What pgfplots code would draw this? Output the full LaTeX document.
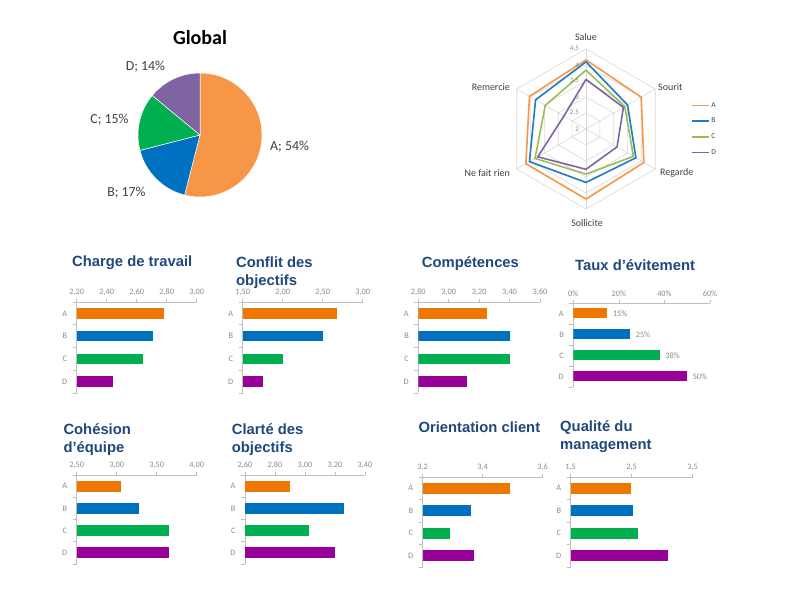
\documentclass[border=0pt]{standalone}
\usepackage{pgfplots}
\pgfplotsset{compat=1.18}
\usepackage{pgfplotstable}
\usepackage{fontspec}
\setmainfont{Carlito}
\newfontfamily\titlefont{Liberation Sans}

\definecolor{barA}{HTML}{EE7700}
\definecolor{barB}{HTML}{0070C0}
\definecolor{barC}{HTML}{00B050}
\definecolor{barD}{HTML}{990099}
\definecolor{pieA}{HTML}{F79646}
\definecolor{pieB}{HTML}{0070C0}
\definecolor{pieC}{HTML}{00B050}
\definecolor{pieD}{HTML}{8064A2}
\definecolor{radA}{HTML}{F79646}
\definecolor{radB}{HTML}{1F7BC4}
\definecolor{radC}{HTML}{9BBB59}
\definecolor{radD}{HTML}{8064A2}
\definecolor{ttl}{HTML}{1F497D}
\definecolor{tk}{HTML}{8C8C8C}
\definecolor{axl}{HTML}{BFBFBF}
\definecolor{gridc}{HTML}{D9D9D9}
\definecolor{lab}{HTML}{404040}

\pgfplotstableread{
ang A B C D
90 4.16 4.10 3.84 3.55
30 3.99 3.50 3.40 3.35
-30 4.09 3.80 3.71 3.12
-90 4.19 3.67 3.41 3.26
-150 4.17 4.04 3.84 3.74
150 4.04 3.82 3.47 2.80
90 4.16 4.10 3.84 3.55
}\radar

\def\pA{54}\def\pB{17}\def\pC{15}\def\pD{14}

\pgfplotsset{
 minibar/.style={
   scale only axis,
   xbar, bar width=10.5pt, bar shift=0pt,
   ymin=0.5, ymax=4.5,
   ytick={1,2,3,4}, yticklabels={D,C,B,A},
   minor ytick={0.5,1.5,2.5,3.5,4.5},
   axis x line=top, axis y line=left,
   axis line style={-, axl, line width=0.6pt},
   tick align=outside,
   major tick length=3pt, minor tick length=4pt,
   major y tick style={draw=none},
   minor y tick style={axl, line width=0.6pt},
   major x tick style={axl, line width=0.6pt},
   ticklabel style={font=\fontsize{8.3}{9}\selectfont, text=tk},
   yticklabel style={xshift=-3pt},
   /pgf/number format/fixed,
   /pgf/number format/fixed zerofill,
   /pgf/number format/precision=2,
   /pgf/number format/use comma,
   /pgf/number format/assume math mode=true,
 },
}
\tikzset{
 ttlstyle/.style={anchor=base west, align=left, text=ttl,
   font=\titlefont\bfseries\fontsize{14.8}{17.5}\selectfont, inner sep=0pt},
}

\begin{document}
\begin{tikzpicture}
\path[use as bounding box, fill=white] (0,0) rectangle (785pt,613pt);

% ---------------- Pie ----------------
\begin{axis}[hide axis, scale only axis, width=124pt, height=124pt,
  xmin=-1, xmax=1, ymin=-1, ymax=1, at={(200pt,478pt)}, anchor=center]
\fill[pieA, draw=white, line width=0.5pt] (axis cs:0,0) -- ++(90:62pt)
  arc[start angle=90, end angle={90-3.6*\pA}, radius=62pt] -- cycle;
\fill[pieB, draw=white, line width=0.5pt] (axis cs:0,0) -- ++({90-3.6*\pA}:62pt)
  arc[start angle={90-3.6*\pA}, end angle={90-3.6*(\pA+\pB)}, radius=62pt] -- cycle;
\fill[pieC, draw=white, line width=0.5pt] (axis cs:0,0) -- ++({90-3.6*(\pA+\pB)}:62pt)
  arc[start angle={90-3.6*(\pA+\pB)}, end angle={90-3.6*(\pA+\pB+\pC)}, radius=62pt] -- cycle;
\fill[pieD, draw=white, line width=0.5pt] (axis cs:0,0) -- ++({90-3.6*(\pA+\pB+\pC)}:62pt)
  arc[start angle={90-3.6*(\pA+\pB+\pC)}, end angle={90-3.6*(\pA+\pB+\pC+\pD)}, radius=62pt] -- cycle;
\end{axis}
\node[font=\bfseries\fontsize{20}{22}\selectfont] at (200pt,575pt) {Global};
\node[text=lab, font=\fontsize{13.8}{15}\selectfont, anchor=west, inner sep=0pt] at (270pt,466.3pt) {A; 54\%};
\node[text=lab, font=\fontsize{13.8}{15}\selectfont] at (126.5pt,420pt) {B; 17\%};
\node[text=lab, font=\fontsize{13.8}{15}\selectfont] at (109.5pt,493pt) {C; 15\%};
\node[text=lab, font=\fontsize{13.8}{15}\selectfont] at (145.5pt,546pt) {D; 14\%};

% ---------------- Radar ----------------
\begin{axis}[hide axis, scale only axis, width=160pt, height=160pt,
  xmin=-2.5, xmax=2.5, ymin=-2.5, ymax=2.5, at={(586pt,484pt)}, anchor=center,
  clip=false,
  legend style={at={(1.135,0.5)}, anchor=west, draw=none, fill=none,
    font=\fontsize{7.5}{8}\selectfont, row sep=5.3pt, text=lab},
  legend cell align=left,
  legend image code/.code={\draw[#1] (0pt,0pt) -- (17pt,0pt);}]
\pgfplotsinvokeforeach{0.5,1,1.5,2,2.5}{
 \addplot[gridc, line width=0.6pt, forget plot] table[x expr={#1*cos(\thisrow{ang})}, y expr={#1*sin(\thisrow{ang})}] {\radar};
}
\pgfplotsinvokeforeach{90,30,-30,-90,-150,150}{
 \addplot[gridc, line width=0.6pt, forget plot] coordinates {(0,0) ({2.5*cos(#1)},{2.5*sin(#1)})};
}
\addplot[radA, line width=1.6pt] table[x expr={(\thisrow{A}-2)*cos(\thisrow{ang})}, y expr={(\thisrow{A}-2)*sin(\thisrow{ang})}] {\radar};
\addplot[radB, line width=1.6pt] table[x expr={(\thisrow{B}-2)*cos(\thisrow{ang})}, y expr={(\thisrow{B}-2)*sin(\thisrow{ang})}] {\radar};
\addplot[radC, line width=1.6pt] table[x expr={(\thisrow{C}-2)*cos(\thisrow{ang})}, y expr={(\thisrow{C}-2)*sin(\thisrow{ang})}] {\radar};
\addplot[radD, line width=1.6pt] table[x expr={(\thisrow{D}-2)*cos(\thisrow{ang})}, y expr={(\thisrow{D}-2)*sin(\thisrow{ang})}] {\radar};
\legend{A,B,C,D}
\end{axis}
\begin{scope}[every node/.style={text=tk, font=\fontsize{7}{7}\selectfont, anchor=east, inner sep=0pt}]
\node at (579pt,484pt) {2};
\node at (579pt,500pt) {2,5};
\node at (579pt,516pt) {3};
\node at (579pt,532pt) {3,5};
\node at (579pt,548pt) {4};
\node at (579pt,564pt) {4,5};
\end{scope}
\begin{scope}[every node/.style={text=lab, font=\fontsize{10}{11}\selectfont, inner sep=0pt}]
\node at (586pt,576pt) {Salue};
\node[anchor=west] at (658pt,526.3pt) {Sourit};
\node[anchor=west] at (660pt,439.7pt) {Regarde};
\node at (587pt,390.3pt) {Sollicite};
\node[anchor=east] at (510pt,439.7pt) {Ne fait rien};
\node[anchor=east] at (510pt,526.3pt) {Remercie};
\end{scope}

% ---------------- Row 1 ----------------
\begin{axis}[minibar, at={(76.7pt,311pt)}, anchor=north west, width=120pt, height=91pt,
  xmin=2.2, xmax=3.0, xtick={2.2,2.4,2.6,2.8,3.0}]
\addplot[fill=barA, draw=none] coordinates {(2.78,4)};
\addplot[fill=barB, draw=none] coordinates {(2.71,3)};
\addplot[fill=barC, draw=none] coordinates {(2.64,2)};
\addplot[fill=barD, draw=none] coordinates {(2.44,1)};
\end{axis}
\node[ttlstyle] at (72pt,346pt) {Charge de travail};

\begin{axis}[minibar, at={(242.7pt,311pt)}, anchor=north west, width=120pt, height=91pt,
  xmin=1.5, xmax=3.0, xtick={1.5,2.0,2.5,3.0}]
\addplot[fill=barA, draw=none] coordinates {(2.68,4)};
\addplot[fill=barB, draw=none] coordinates {(2.50,3)};
\addplot[fill=barC, draw=none] coordinates {(2.00,2)};
\addplot[fill=barD, draw=none] coordinates {(1.75,1)};
\end{axis}
\node[ttlstyle] at (236pt,327.5pt) {Conflit des\\objectifs};

\begin{axis}[minibar, at={(418.3pt,311pt)}, anchor=north west, width=121.7pt, height=91pt,
  xmin=2.8, xmax=3.6, xtick={2.8,3.0,3.2,3.4,3.6}]
\addplot[fill=barA, draw=none] coordinates {(3.25,4)};
\addplot[fill=barB, draw=none] coordinates {(3.40,3)};
\addplot[fill=barC, draw=none] coordinates {(3.40,2)};
\addplot[fill=barD, draw=none] coordinates {(3.12,1)};
\end{axis}
\node[ttlstyle] at (421.7pt,345pt) {Compétences};

\begin{axis}[minibar, at={(573.3pt,310pt)}, anchor=north west, width=136.7pt, height=84pt,
  bar width=10pt,
  xmin=0, xmax=60, xtick={0,20,40,60},
  /pgf/number format/precision=0, /pgf/number format/fixed zerofill=false,
  xticklabel={\pgfmathprintnumber{\tick}\%},
  point meta=x,
  nodes near coords={\pgfmathprintnumber{\pgfplotspointmeta}\%},
  nodes near coords style={font=\fontsize{8.3}{9}\selectfont, text=tk, anchor=west, xshift=2pt}]
\addplot[fill=barA, draw=none] coordinates {(15,4)};
\addplot[fill=barB, draw=none] coordinates {(25,3)};
\addplot[fill=barC, draw=none] coordinates {(38,2)};
\addplot[fill=barD, draw=none] coordinates {(50,1)};
\end{axis}
\node[ttlstyle] at (575pt,342.3pt) {Taux d’évitement};

% ---------------- Row 2 ----------------
\begin{axis}[minibar, at={(76.7pt,138pt)}, anchor=north west, width=120pt, height=89pt,
  bar width=11pt,
  xmin=2.5, xmax=4.0, xtick={2.5,3.0,3.5,4.0}]
\addplot[fill=barA, draw=none] coordinates {(3.06,4)};
\addplot[fill=barB, draw=none] coordinates {(3.28,3)};
\addplot[fill=barC, draw=none] coordinates {(3.66,2)};
\addplot[fill=barD, draw=none] coordinates {(3.66,1)};
\end{axis}
\node[ttlstyle] at (63.3pt,160.7pt) {Cohésion\\d’équipe};

\begin{axis}[minibar, at={(245pt,138pt)}, anchor=north west, width=120pt, height=89pt,
  bar width=11pt,
  xmin=2.6, xmax=3.4, xtick={2.6,2.8,3.0,3.2,3.4}]
\addplot[fill=barA, draw=none] coordinates {(2.90,4)};
\addplot[fill=barB, draw=none] coordinates {(3.26,3)};
\addplot[fill=barC, draw=none] coordinates {(3.03,2)};
\addplot[fill=barD, draw=none] coordinates {(3.20,1)};
\end{axis}
\node[ttlstyle] at (231.7pt,160.7pt) {Clarté des\\objectifs};

\begin{axis}[minibar, at={(422.7pt,136pt)}, anchor=north west, width=120pt, height=90pt,
  bar width=11pt,
  xmin=3.2, xmax=3.6, xtick={3.2,3.4,3.6}, /pgf/number format/precision=1]
\addplot[fill=barA, draw=none] coordinates {(3.49,4)};
\addplot[fill=barB, draw=none] coordinates {(3.36,3)};
\addplot[fill=barC, draw=none] coordinates {(3.29,2)};
\addplot[fill=barD, draw=none] coordinates {(3.37,1)};
\end{axis}
\node[ttlstyle] at (418.3pt,180.7pt) {Orientation client};

\begin{axis}[minibar, at={(570.7pt,136pt)}, anchor=north west, width=122pt, height=90pt,
  bar width=11pt,
  xmin=1.5, xmax=3.5, xtick={1.5,2.5,3.5}, /pgf/number format/precision=1]
\addplot[fill=barA, draw=none] coordinates {(2.49,4)};
\addplot[fill=barB, draw=none] coordinates {(2.52,3)};
\addplot[fill=barC, draw=none] coordinates {(2.61,2)};
\addplot[fill=barD, draw=none] coordinates {(3.10,1)};
\end{axis}
\node[ttlstyle] at (560pt,163.7pt) {Qualité du\\management};

\end{tikzpicture}
\end{document}
